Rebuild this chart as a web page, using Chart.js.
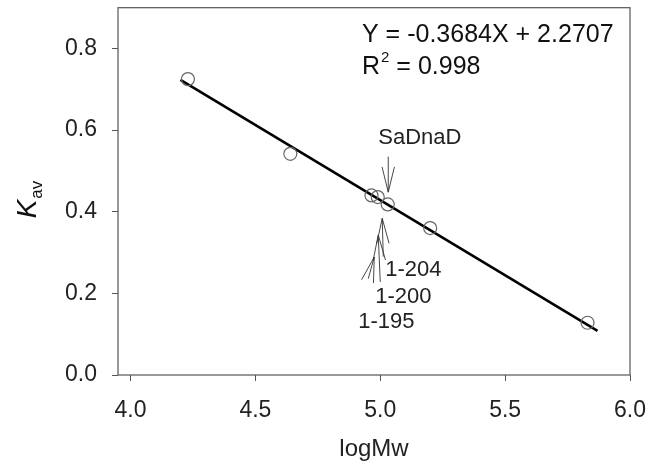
<!DOCTYPE html>
<html>
<head>
<meta charset="utf-8">
<script src="https://cdn.jsdelivr.net/npm/chart.js@4/dist/chart.umd.min.js"></script>
<style>
  html, body { margin: 0; padding: 0; background: #fff; }
  #wrap { width: 649px; height: 467px; }
</style>
</head>
<body>
<div id="wrap"><canvas id="chart" width="649" height="467"></canvas></div>
<script>
// standards (logMw, Kav)
const stdLogMw = [4.23, 4.64, 4.965, 4.99, 5.03, 5.20, 5.83];
const stdKav   = [0.725, 0.542, 0.440, 0.436, 0.418, 0.360, 0.128];

// regression shown in the figure
const slope = -0.3684;
const intercept = 2.2707;
const fitRange = [4.20, 5.87];

const xTicks = [4.0, 4.5, 5.0, 5.5, 6.0];
const yTicks = [0.0, 0.2, 0.4, 0.6, 0.8];

// arrows pointing at the proteins: label, tail (x,y), tip (x,y), label position
const arrowNames = ['SaDnaD', '1-204', '1-200', '1-195'];
const arrowTail  = [[5.032, 0.535], [5.012, 0.290], [5.000, 0.228], [4.952, 0.236]];
const arrowTip   = [[5.032, 0.448], [5.008, 0.384], [4.992, 0.343], [4.976, 0.289]];
const labelPos   = [[4.992, 0.580], [5.020, 0.257], [4.980, 0.191], [4.912, 0.130]];

const font = '"Liberation Sans", Arial, sans-serif';

const scatterData = stdLogMw.map((x, i) => ({ x: x, y: stdKav[i] }));
const fitData = fitRange.map(x => ({ x: x, y: slope * x + intercept }));

function noPad(s) {
  s.paddingTop = 0; s.paddingBottom = 0; s.paddingLeft = 0; s.paddingRight = 0;
}

const extras = {
  id: 'extras',
  afterDraw(chart) {
    const ctx = chart.ctx;
    const a = chart.chartArea;
    const xs = chart.scales.x, ys = chart.scales.y;
    ctx.save();
    // frame
    ctx.strokeStyle = '#555';
    ctx.lineWidth = 1.2;
    ctx.strokeRect(a.left, a.top, a.right - a.left, a.bottom - a.top);

    // arrows
    ctx.strokeStyle = '#333';
    ctx.lineWidth = 0.9;
    ctx.fillStyle = '#222';
    ctx.font = '22px ' + font;
    ctx.textBaseline = 'middle';
    ctx.textAlign = 'left';
    arrowNames.forEach((name, i) => {
      const tx = xs.getPixelForValue(arrowTail[i][0]), ty = ys.getPixelForValue(arrowTail[i][1]);
      const hx = xs.getPixelForValue(arrowTip[i][0]), hy = ys.getPixelForValue(arrowTip[i][1]);
      const ang = Math.atan2(hy - ty, hx - tx);
      const len = 26, spread = 0.24;
      ctx.beginPath();
      ctx.moveTo(tx, ty);
      ctx.lineTo(hx, hy);
      ctx.moveTo(hx - len * Math.cos(ang - spread), hy - len * Math.sin(ang - spread));
      ctx.lineTo(hx, hy);
      ctx.lineTo(hx - len * Math.cos(ang + spread), hy - len * Math.sin(ang + spread));
      ctx.stroke();
      ctx.fillText(name, xs.getPixelForValue(labelPos[i][0]), ys.getPixelForValue(labelPos[i][1]));
    });

    // equation
    ctx.fillStyle = '#111';
    ctx.textBaseline = 'alphabetic';
    ctx.font = '25px ' + font;
    ctx.fillText('Y = -0.3684X + 2.2707', 362, 42);
    ctx.fillText('R', 362, 74);
    const rw = ctx.measureText('R').width;
    ctx.font = '15px ' + font;
    ctx.fillText('2', 362 + rw + 1, 62);
    const sw = ctx.measureText('2').width;
    ctx.font = '25px ' + font;
    ctx.fillText(' = 0.998', 362 + rw + sw + 1, 74);

    // y axis title K_av
    ctx.translate(36, 200);
    ctx.rotate(-Math.PI / 2);
    ctx.fillStyle = '#111';
    const big = 'italic 28px ' + font;
    const sub = '17px ' + font;
    ctx.font = big;
    const kw = ctx.measureText('K').width;
    ctx.font = sub;
    const aw = ctx.measureText('av').width;
    const start = -(kw + aw) / 2;
    ctx.font = big;
    ctx.fillText('K', start, 0);
    ctx.font = sub;
    ctx.fillText('av', start + kw + 1, 6);
    ctx.restore();
  }
};

new Chart(document.getElementById('chart'), {
  type: 'scatter',
  data: {
    datasets: [
      {
        label: 'fit',
        data: fitData,
        showLine: true,
        borderColor: '#000',
        borderWidth: 2.6,
        pointRadius: 0,
        order: 2
      },
      {
        label: 'standards',
        data: scatterData,
        pointStyle: 'circle',
        pointRadius: 6.5,
        backgroundColor: 'rgba(0,0,0,0)',
        borderColor: '#666',
        borderWidth: 1.2,
        order: 1
      }
    ]
  },
  options: {
    responsive: false,
    animation: false,
    layout: { padding: { top: 7, right: 19, left: 0, bottom: 0 } },
    plugins: {
      legend: { display: false },
      tooltip: { enabled: false }
    },
    scales: {
      x: {
        type: 'linear',
        min: 3.95,
        max: 6.0,
        afterFit: s => { s.height = 92; noPad(s); },
        afterBuildTicks: s => { s.ticks = xTicks.map(v => ({ value: v })); },
        grid: { drawOnChartArea: false, drawTicks: true, tickLength: 6, color: '#555' },
        border: { display: false },
        ticks: {
          color: '#222',
          padding: 16,
          maxRotation: 0,
          font: { family: font, size: 23 },
          callback: v => Number(v).toFixed(1)
        },
        title: {
          display: true,
          text: 'logMw',
          color: '#222',
          font: { family: font, size: 24 },
          padding: { top: 0, bottom: 3 }
        }
      },
      y: {
        type: 'linear',
        min: 0,
        max: 0.9,
        afterFit: s => { s.width = 118; noPad(s); },
        afterBuildTicks: s => { s.ticks = yTicks.map(v => ({ value: v })); },
        grid: { drawOnChartArea: false, drawTicks: true, tickLength: 6, color: '#555' },
        border: { display: false },
        ticks: {
          color: '#222',
          padding: 15,
          font: { family: font, size: 23 },
          callback: v => Number(v).toFixed(1)
        }
      }
    }
  },
  plugins: [extras]
});
</script>
</body>
</html>
